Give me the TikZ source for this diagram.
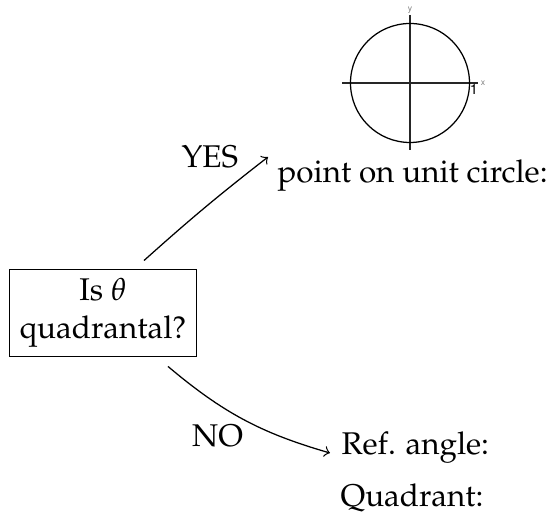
\documentclass[tikz,border=0pt]{standalone}
\usepackage[T1]{fontenc}
\usepackage{mathpazo}
\usepackage[scaled=0.92]{helvet}
\usepackage{tikz}
\usetikzlibrary{arrows, positioning, calc}

\begin{document}
\begin{tikzpicture}[x=0.0112cm, y=-0.0112cm, >=to,
    caja/.style={draw, align=center, inner sep=3pt},
    texto/.style={inner sep=0pt, anchor=base west},
    ejes/.style={black!85}]

    % Marco de la figura
    \useasboundingbox (0,0) rectangle (555,529);

    % --- PREGUNTA ---
    \node[caja, minimum width=2.09cm, minimum height=0.9cm] (pregunta) at (103,313) {Is $\theta$\\quadrantal?};

    % --- RESPUESTAS ---
    \node[texto] (punto) at (277,183) {point on unit circle:};
    \node[texto] (refang) at (341,455) {Ref. angle:};
    \node[texto] (cuadr) at (340,507) {Quadrant:};

    % Circulo unitario
    \coordinate (O) at (410,83);
    \draw[ejes] ($(O)+(-68,0)$) -- ($(O)+(68,0)$);
    \draw[ejes] ($(O)+(0,-68)$) -- ($(O)+(0,67)$);
    \draw (O) circle (59.5);
    \node[font=\sffamily\fontsize{3}{4}\selectfont, text=black!50, inner sep=0pt] (ejey) at ($(O)+(0,-73)$) {y};
    \node[font=\sffamily\fontsize{3}{4}\selectfont, text=black!50, inner sep=0pt] (ejex) at ($(O)+(73,0)$) {x};
    \node[font=\sffamily\fontsize{5}{6}\selectfont, inner sep=0pt] (uno) at ($(O)+(64,6)$) {1};

    % --- FLECHAS ---
    \draw[->] ([shift={(41,-8)}]pregunta.north) to[bend left=2] node[at end, anchor=east, xshift=-6pt] {YES} ([shift={(-9,-26)}]punto.base west);
    \draw[->] ([shift={(65,9)}]pregunta.south) to[bend right=12] node[pos=0.52, anchor=north east, inner sep=1pt] {NO} ([shift={(-11,-2)}]refang.base west);

\end{tikzpicture}
\end{document}
